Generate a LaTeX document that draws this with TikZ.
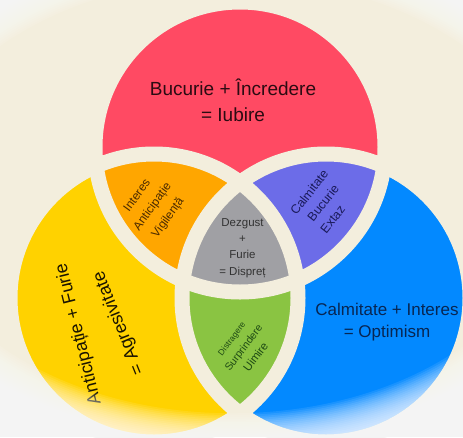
\documentclass[tikz,border=0pt]{standalone}
\usepackage{fontspec}
\setmainfont{Liberation Sans}
\definecolor{cream}{RGB}{243,238,221}
\definecolor{redc}{RGB}{255,74,99}
\definecolor{yellowc}{RGB}{255,210,0}
\definecolor{bluec}{RGB}{3,137,255}
\definecolor{orangec}{RGB}{255,166,0}
\definecolor{purplec}{RGB}{108,108,232}
\definecolor{grayc}{RGB}{160,160,164}
\definecolor{greenc}{RGB}{138,196,66}
\definecolor{redtxt}{RGB}{43,11,18}
\definecolor{bluetxt}{RGB}{8,38,82}
\definecolor{yellowtxt}{RGB}{26,20,0}
\definecolor{orangetxt}{RGB}{74,42,0}
\definecolor{purpletxt}{RGB}{26,26,90}
\definecolor{graytxt}{RGB}{51,51,51}
\definecolor{greentxt}{RGB}{30,74,20}
\tikzset{
  gapline/.style={draw=cream, line width=15pt},
  smalllbl/.style={align=center, inner sep=0pt},
  yellowlbl/.style={text=yellowtxt, font=\fontsize{18}{18}\selectfont, inner sep=0pt}
}
\begin{document}
\begin{tikzpicture}[x=1pt,y=-1pt]
\useasboundingbox (0,0) rectangle (463,437);
\fill[cream] (0,0) rectangle (463,437);
\coordinate (R) at (240,147);
\coordinate (Y) at (154,298);
\coordinate (B) at (326,298);
% base circles
\fill[redc] (R) circle[radius=145pt];
\fill[yellowc] (Y) circle[radius=144pt];
\fill[bluec] (B) circle[radius=144pt];
% pairwise intersections
\begin{scope}
  \clip (R) circle[radius=145pt];
  \fill[orangec] (Y) circle[radius=144pt];
  \fill[purplec] (B) circle[radius=144pt];
\end{scope}
\begin{scope}
  \clip (Y) circle[radius=144pt];
  \fill[greenc] (B) circle[radius=144pt];
  \clip (R) circle[radius=145pt];
  \fill[grayc] (B) circle[radius=144pt];
\end{scope}
% gaps
\draw[gapline] (R) circle[radius=145pt];
\draw[gapline] (Y) circle[radius=144pt];
\draw[gapline] (B) circle[radius=144pt];
% texts
\node[text=redtxt, align=center, font=\fontsize{19}{26}\selectfont] (tRed) at (233,100) {Bucurie + Încredere\\= Iubire};
\node[text=bluetxt, align=center, font=\fontsize{17}{22}\selectfont] (tBlue) at (387,322) {Calmitate + Interes\\= Optimism};
\node[yellowlbl, rotate=104] (tY1) at (79,334) {Anticipație + Furie};
\node[yellowlbl, rotate=112] (tY2) at (119,323) {= Agresivitate};
\node[smalllbl, rotate=54, text=orangetxt, font=\fontsize{12}{19}\selectfont] (tOrange) at (153,207) {Interes\\Anticipație\\Vigilență};
\node[smalllbl, rotate=52, text=purpletxt, font=\fontsize{12.5}{17.5}\selectfont] (tPurple) at (323,203) {Calmitate\\Bucurie\\Extaz\hspace*{14pt}};
\node[smalllbl, rotate=53, text=greentxt, font=\fontsize{10.5}{15.5}\selectfont] (tGreen) at (244,348) {{\fontsize{8.5}{15.5}\selectfont Distragere}\\Surprindere\\{\fontsize{11.5}{15.5}\selectfont Uimire}};
\node[text=graytxt, align=center, font=\fontsize{11.5}{16.3}\selectfont] (tGray) at (242.5,248) {Dezgust\\+\\Furie\\= Dispreț};
% vignette
\foreach \s in {0,...,29} {
  \fill[white, fill opacity=0.09, even odd rule]
    (-5,-5) rectangle (468,442)
    (232,196) ellipse[x radius={(0.97+0.008*\s)*330pt}, y radius={(0.97+0.008*\s)*224pt}];
}
\end{tikzpicture}
\end{document}
